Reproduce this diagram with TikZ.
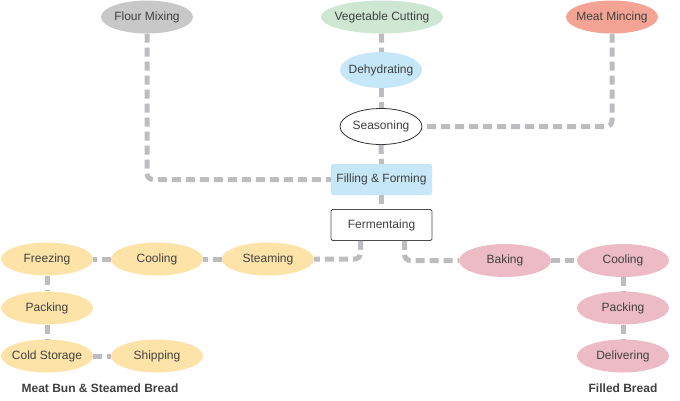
\documentclass[tikz,border=0pt]{standalone}
\usepackage{fontspec}
\setmainfont{Liberation Sans}
\usepackage{tikz}
\usetikzlibrary{shapes}

\definecolor{flourgray}{HTML}{C8C8C8}
\definecolor{veggreen}{HTML}{CDE7D3}
\definecolor{meatred}{HTML}{F4A495}
\definecolor{lightblue}{HTML}{C6E7F7}
\definecolor{bunyellow}{HTML}{FDE3A7}
\definecolor{breadpink}{HTML}{EDBBC5}
\definecolor{linegray}{HTML}{BDBDC1}
\definecolor{txtgray}{HTML}{404040}

\begin{document}
\begin{tikzpicture}[x=1pt,y=-1pt,
  stage/.style={shape=ellipse,draw=none,align=center,inner xsep=-20pt,inner ysep=0pt,minimum width=92pt,minimum height=33pt,text=txtgray,font={\fontsize{12}{14}\selectfont}},
  box/.style={shape=rectangle,rounded corners=1.5pt,align=center,inner sep=0pt,minimum width=101pt,minimum height=31pt,text=txtgray,font={\fontsize{12}{14}\selectfont}},
  title/.style={align=center,inner sep=0pt,text=txtgray,font={\fontsize{12}{14}\selectfont\bfseries}},
  flow/.style={-,draw=linegray,line width=5pt,dash pattern=on 9pt off 5pt,rounded corners=6pt}]
\useasboundingbox (0,0) rectangle (680,400);

\node[stage,fill=flourgray] (0) at (147,17) {Flour Mixing};
\node[stage,fill=veggreen,minimum width=122pt] (1) at (382,17) {Vegetable Cutting};
\node[stage,fill=meatred] (2) at (612,17) {Meat Mincing};
\node[stage,fill=lightblue,minimum width=82pt,minimum height=36pt] (3) at (381,70) {Dehydrating};
\node[stage,fill=white,draw=black!80,line width=0.8pt,minimum width=82pt,minimum height=36pt] (4) at (381,126.5) {Seasoning};
\node[box,fill=lightblue] (5) at (381.5,179.5) {Filling \& Forming};
\node[box,fill=white,draw=black!70,line width=0.8pt] (6) at (381.5,225) {Fermentaing};
\node[stage,fill=bunyellow] (7) at (47,259) {Freezing};
\node[stage,fill=bunyellow] (8) at (157,259) {Cooling};
\node[stage,fill=bunyellow] (9) at (268,259) {Steaming};
\node[stage,fill=bunyellow] (10) at (47,308) {Packing};
\node[stage,fill=bunyellow] (11) at (47,356) {Cold Storage};
\node[stage,fill=bunyellow] (12) at (157,356) {Shipping};
\node[stage,fill=breadpink] (13) at (505,260.5) {Baking};
\node[stage,fill=breadpink] (14) at (623,260.5) {Cooling};
\node[stage,fill=breadpink] (15) at (623,308) {Packing};
\node[stage,fill=breadpink] (16) at (623,356) {Delivering};
\node[title] (17) at (100,388) {Meat Bun \& Steamed Bread};
\node[title] (18) at (623,388) {Filled Bread};

\path [flow] (1) edge node {} (3);
\path [flow] (3) edge node {} (4);
\path [flow] (4) edge node {} (5);
\path [flow] (5) edge node {} (6);
\path [flow] (0) |- (5);
\path [flow] (2) |- (4);
\path [flow] ([xshift=-21pt]6.south) |- (9);
\path [flow] ([xshift=23pt]6.south) |- (13);
\path [flow] (9) edge node {} (8);
\path [flow] (8) edge node {} (7);
\path [flow] (7) edge node {} (10);
\path [flow] (10) edge node {} (11);
\path [flow] (11) edge node {} (12);
\path [flow] (13) edge node {} (14);
\path [flow] (14) edge node {} (15);
\path [flow] (15) edge node {} (16);
\end{tikzpicture}
\end{document}
